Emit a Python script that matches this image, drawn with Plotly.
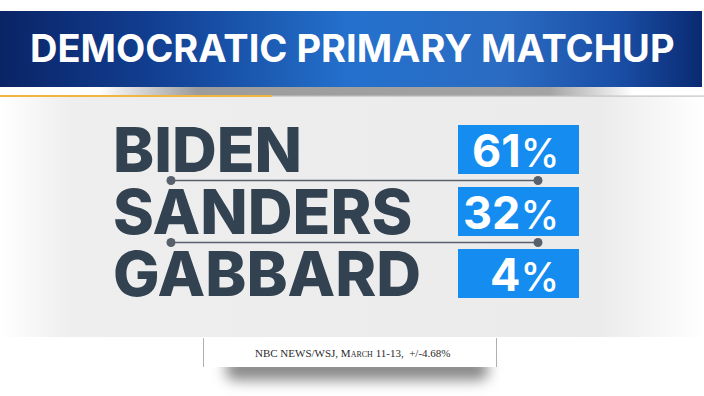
import base64
import plotly.graph_objects as go

# ---- data ----
candidates = ["BIDEN", "SANDERS", "GABBARD"]
support_pct = [61, 32, 4]
title_text = "DEMOCRATIC PRIMARY MATCHUP"
source_text = "NBC NEWS/WSJ, March 11-13,  +/-4.68%"

# ---- style constants ----
W, H = 704, 396
NAME_COLOR = "#334251"
BOX_COLOR = "#148cf0"
LINE_COLOR = "#58606c"
BOX_X0, BOX_W = 458, 121
NAME_X = 111
CONN_X = [171, 538]

svg = f'''<svg xmlns="http://www.w3.org/2000/svg" width="{W}" height="{H}" viewBox="0 0 {W} {H}">
<defs>
<linearGradient id="bar" x1="0" x2="1" y1="0" y2="0">
 <stop offset="0" stop-color="#0a2466"/>
 <stop offset="0.22" stop-color="#123f92"/>
 <stop offset="0.5" stop-color="#2471cd"/>
 <stop offset="0.72" stop-color="#2b6bc2"/>
 <stop offset="0.88" stop-color="#1a4fa6"/>
 <stop offset="1" stop-color="#0a2a72"/>
</linearGradient>
<linearGradient id="panel" x1="0" x2="1" y1="0" y2="0">
 <stop offset="0" stop-color="#ffffff"/>
 <stop offset="0.1" stop-color="#eeeeee"/>
 <stop offset="0.85" stop-color="#ebebeb"/>
 <stop offset="1" stop-color="#ffffff"/>
</linearGradient>
<linearGradient id="tsh" x1="0" x2="1" y1="0" y2="0">
 <stop offset="0" stop-color="#ffffff"/>
 <stop offset="0.14" stop-color="#ffffff"/>
 <stop offset="0.28" stop-color="#9c9c9c"/>
 <stop offset="0.78" stop-color="#a4a4a4"/>
 <stop offset="0.9" stop-color="#ffffff"/>
</linearGradient>
<filter id="blur" x="-30%" y="-200%" width="160%" height="500%">
 <feGaussianBlur stdDeviation="7"/>
</filter>
</defs>
<rect x="0" y="0" width="{W}" height="{H}" fill="#ffffff"/>
<rect x="0" y="96" width="{W}" height="241" fill="url(#panel)"/>
<rect x="0" y="86" width="{W}" height="10" fill="url(#tsh)"/>
<rect x="0" y="11" width="702" height="76" fill="url(#bar)"/>
<rect x="0" y="95" width="272" height="2" fill="#f2b53c"/>
<rect x="272" y="95.5" width="432" height="1.2" fill="#c4c4c4"/>
<rect x="226" y="358" width="262" height="22" rx="8" fill="#858585" filter="url(#blur)"/>
<rect x="203" y="338" width="294" height="29" fill="#ffffff"/>
<line x1="203.5" y1="338" x2="203.5" y2="367" stroke="#b0b0b0" stroke-width="1"/>
<line x1="496.5" y1="338" x2="496.5" y2="367" stroke="#b0b0b0" stroke-width="1"/>
</svg>'''
bg_uri = "data:image/svg+xml;base64," + base64.b64encode(svg.encode()).decode()

n = len(candidates)
idx = list(range(n))

fig = go.Figure()

# percent boxes (same width for every row)
fig.add_trace(go.Bar(
    y=idx, x=[BOX_W] * n, base=[BOX_X0] * n, orientation="h",
    width=0.79, marker=dict(color=BOX_COLOR, line=dict(width=0)),
    hoverinfo="skip", showlegend=False,
))

# connector lines between rows
for i in range(n - 1):
    fig.add_trace(go.Scatter(
        x=CONN_X, y=[i + 0.5, i + 0.5], mode="lines+markers",
        line=dict(color=LINE_COLOR, width=1.6),
        marker=dict(color=LINE_COLOR, size=9),
        hoverinfo="skip", showlegend=False,
    ))

annotations = []
for i, (name, v) in enumerate(zip(candidates, support_pct)):
    annotations.append(dict(
        x=NAME_X, y=i, xref="x", yref="y", xanchor="left", yanchor="middle",
        text=name, showarrow=False, yshift=1, height=58, valign="middle",
        font=dict(family="Inter", size=62, color=NAME_COLOR, weight=800),
    ))
    annotations.append(dict(
        x=BOX_X0 + BOX_W - 18, y=i, xref="x", yref="y", xanchor="right", yanchor="middle",
        text=f"{v}<span style='font-size:39px;font-weight:500'>%</span>", showarrow=False,
        height=46, valign="middle",
        font=dict(family="Inter", size=45, color="#ffffff", weight=700),
    ))

annotations.append(dict(
    x=352 / W, y=1 - 48 / H, xref="paper", yref="paper", xanchor="center", yanchor="middle",
    text=title_text, showarrow=False,
    font=dict(family="Inter", size=38, color="#ffffff", weight=700),
))
annotations.append(dict(
    x=352 / W, y=1 - 353 / H, xref="paper", yref="paper", xanchor="center", yanchor="middle",
    text=source_text, showarrow=False,
    font=dict(family="Liberation Serif", size=11, color="#2a2a2a", variant="small-caps"),
))

fig.update_layout(
    width=W, height=H, margin=dict(l=0, r=0, t=0, b=0),
    paper_bgcolor="#ffffff", plot_bgcolor="rgba(0,0,0,0)",
    xaxis=dict(range=[0, W], domain=[0, 1], visible=False, fixedrange=True),
    yaxis=dict(range=[n - 0.5, -0.5], domain=[(H - 304.5) / H, (H - 118.5) / H],
               visible=False, fixedrange=True),
    images=[dict(source=bg_uri, xref="paper", yref="paper", x=0, y=1, sizex=1, sizey=1,
                 sizing="stretch", layer="below", xanchor="left", yanchor="top")],
    annotations=annotations,
    showlegend=False,
)

fig.write_html("out.html", config={"displayModeBar": False})
